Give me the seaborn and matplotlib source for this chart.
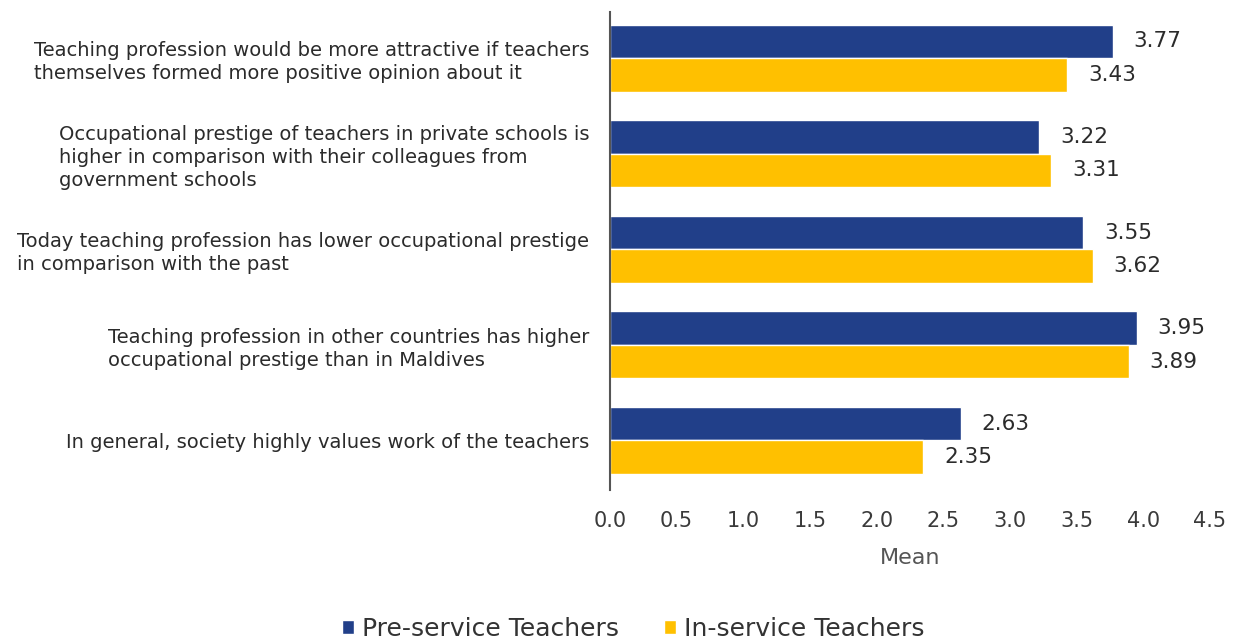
import matplotlib
matplotlib.use("Agg")
import matplotlib.pyplot as plt
import seaborn as sns
import pandas as pd
from matplotlib.patches import Patch

statements = [
    "Teaching profession would be more attractive if teachers\nthemselves formed more positive opinion about it",
    "Occupational prestige of teachers in private schools is\nhigher in comparison with their colleagues from\ngovernment schools",
    "Today teaching profession has lower occupational prestige\nin comparison with the past",
    "Teaching profession in other countries has higher\noccupational prestige than in Maldives",
    "In general, society highly values work of the teachers",
]
groups = ["Pre-service Teachers", "In-service Teachers"]
pre_service = [3.77, 3.22, 3.55, 3.95, 2.63]
in_service = [3.43, 3.31, 3.62, 3.89, 2.35]
x_ticks = [0.0, 0.5, 1.0, 1.5, 2.0, 2.5, 3.0, 3.5, 4.0, 4.5]

df = pd.DataFrame({
    "statement": statements * 2,
    "group": [groups[0]] * len(statements) + [groups[1]] * len(statements),
    "mean": pre_service + in_service,
})

colors = {groups[0]: "#213F89", groups[1]: "#FFC000"}

sns.set_theme(style="white")
plt.rcParams["font.family"] = ["DejaVu Sans"]

fig = plt.figure(figsize=(12.39, 6.44), dpi=100)
ax = fig.add_axes([0.4923, 0.239, 0.4843, 0.742])

sns.barplot(data=df, y="statement", x="mean", hue="group", hue_order=groups,
            order=statements, palette=colors, width=0.7, orient="h",
            ax=ax, legend=False, saturation=1)

for cont in ax.containers:
    ax.bar_label(cont, fmt="%.2f", padding=15, fontsize=15.5, color="#2b2b2b")

ax.set_xlim(0, 4.5)
ax.set_ylim(4.52, -0.48)
ax.set_xticks(x_ticks)
ax.set_xticklabels([f"{t:.1f}" for t in x_ticks], fontsize=15, color="#3a3a3a")
ax.tick_params(axis="x", length=0, pad=15)
ax.tick_params(axis="y", length=0, pad=15)
for lbl in ax.get_yticklabels():
    lbl.set_fontsize(14)
    lbl.set_color("#2b2b2b")
    lbl.set_multialignment("left")
    lbl.set_linespacing(1.25)
ax.set_ylabel("")
ax.set_xlabel("Mean", fontsize=16, color="#555555", labelpad=12)

for side in ["top", "right", "bottom"]:
    ax.spines[side].set_visible(False)
ax.spines["left"].set_color("#555555")
ax.spines["left"].set_linewidth(1.5)

handles = [Patch(facecolor=colors[g], label=g) for g in groups]
fig.legend(handles=handles, loc="lower center", bbox_to_anchor=(0.511, -0.03),
           ncol=2, frameon=False, fontsize=18, handlelength=0.5, handleheight=0.5,
           handletextpad=0.3, columnspacing=1.8, labelcolor="#333333")

fig.savefig("out.png", dpi=100)
